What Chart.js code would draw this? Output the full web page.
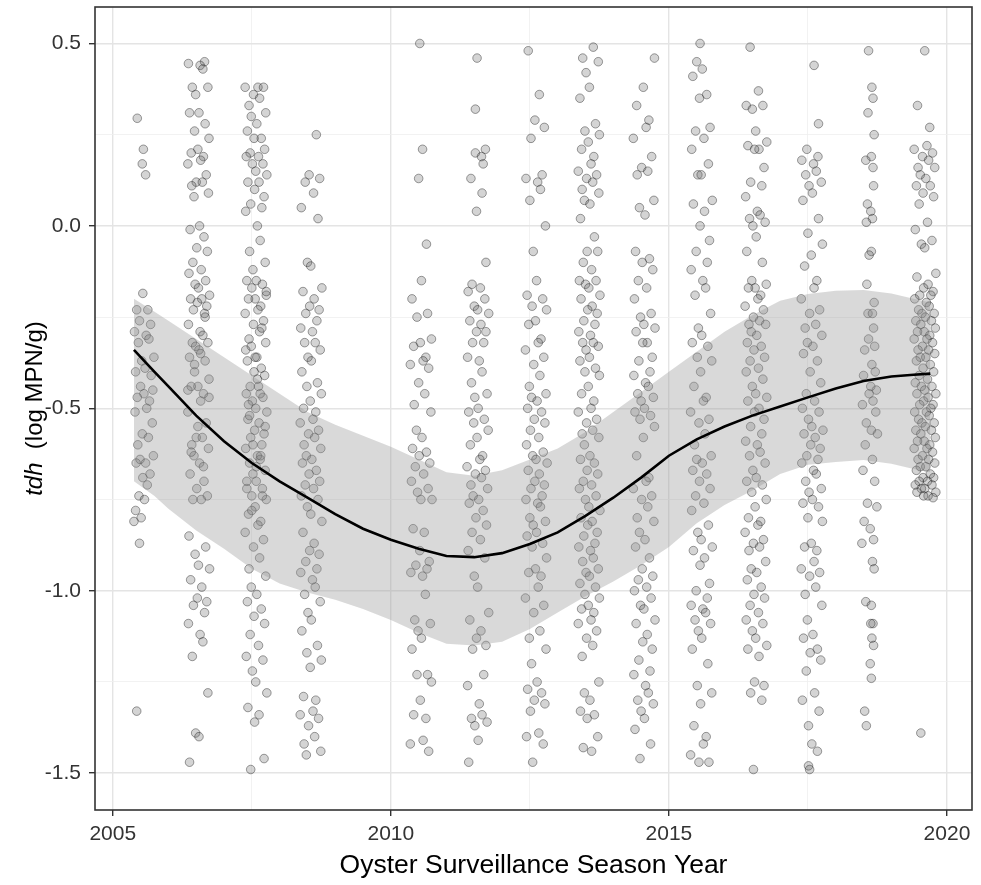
<!DOCTYPE html>
<html lang="en">
<head>
<meta charset="UTF-8" />
<title>tdh by season year</title>
<script src="https://cdn.jsdelivr.net/npm/chart.js"></script>
<style>
  html, body { margin: 0; padding: 0; background: #fff; }
  .wrap { width: 981px; height: 885px; position: relative; }
</style>
</head>
<body>
<div class="wrap"><canvas id="chart"></canvas></div>
<script>
// tick positions (major + minor grid) and labels
const xGrid = [2005, 2007.5, 2010, 2012.5, 2015, 2017.5, 2020];
const xLabels = [2005, 2010, 2015, 2020];
const yGrid = [-1.5, -1.25, -1, -0.75, -0.5, -0.25, 0, 0.25, 0.5];
const yLabels = [-1.5, -1, -0.5, 0, 0.5];

// smooth fit with its confidence band
const fitYears = [2005.38, 2005.75, 2006, 2006.5, 2007, 2007.5, 2008, 2008.5, 2009, 2009.5, 2010, 2010.5, 2011, 2011.5, 2012, 2012.5, 2013, 2013.5, 2014, 2014.5, 2015, 2015.5, 2016, 2016.5, 2017, 2017.5, 2018, 2018.5, 2019, 2019.4, 2019.7];
const fitLine = [-0.34, -0.40, -0.44, -0.52, -0.59, -0.65, -0.70, -0.745, -0.79, -0.83, -0.86, -0.885, -0.905, -0.908, -0.897, -0.872, -0.84, -0.795, -0.745, -0.69, -0.63, -0.585, -0.55, -0.52, -0.495, -0.47, -0.446, -0.425, -0.413, -0.408, -0.405];
const bandUpper = [-0.20, -0.235, -0.26, -0.31, -0.36, -0.41, -0.46, -0.51, -0.545, -0.575, -0.605, -0.64, -0.675, -0.685, -0.67, -0.64, -0.61, -0.565, -0.51, -0.455, -0.40, -0.345, -0.29, -0.245, -0.205, -0.187, -0.178, -0.176, -0.185, -0.20, -0.21];
const bandLower = [-0.70, -0.74, -0.775, -0.835, -0.885, -0.94, -0.98, -1.005, -1.025, -1.05, -1.08, -1.115, -1.145, -1.15, -1.14, -1.105, -1.06, -1.015, -0.975, -0.93, -0.88, -0.815, -0.765, -0.725, -0.68, -0.655, -0.647, -0.642, -0.652, -0.666, -0.675];

// samples per season: [offset from season centre (years), tdh]
const s2005 = [[-.13,.295],[-.02,.21],[-.04,.17],[.02,.14],[-.03,-.185],[-.14,-.23],[.06,-.23],[-.09,-.26],[.11,-.27],[-.18,-.29],[.03,-.30],[.08,-.31],[-.11,-.32],[.17,-.36],[-.05,-.37],[.01,-.39],[-.16,-.40],[.12,-.41],[-.07,-.44],[.15,-.45],[-.01,-.46],[-.13,-.47],[.09,-.48],[.04,-.50],[-.17,-.51],[.14,-.54],[-.04,-.57],[.07,-.58],[-.12,-.60],[.16,-.63],[-.08,-.64],[.02,-.65],[-.15,-.65],[.10,-.68],[-.03,-.69],[.05,-.71],[-.10,-.74],[.00,-.75],[-.16,-.78],[-.06,-.80],[-.19,-.81],[-.09,-.87],[-.14,-1.33]];
const s2006 = [[.11,.45],[-.18,.445],[.03,.44],[.08,.43],[-.11,.38],[.17,.38],[-.05,.36],[.01,.31],[-.16,.31],[.12,.28],[-.07,.26],[.19,.24],[-.01,.21],[-.13,.20],[.09,.19],[.04,.18],[-.19,.17],[.14,.14],[-.04,.12],[.07,.12],[-.12,.11],[.18,.09],[-.08,.08],[.02,0],[-.15,-.01],[.10,-.03],[-.03,-.06],[.16,-.07],[-.10,-.10],[.05,-.12],[-.17,-.13],[.13,-.15],[-.06,-.16],[.00,-.17],[.20,-.19],[-.14,-.20],[.06,-.20],[-.02,-.21],[.15,-.22],[-.09,-.23],[.11,-.24],[-.18,-.27],[.03,-.29],[.08,-.30],[-.11,-.32],[.17,-.32],[-.05,-.33],[.01,-.34],[-.16,-.36],[.12,-.37],[-.07,-.40],[.19,-.42],[-.01,-.44],[-.13,-.44],[.09,-.46],[.04,-.48],[-.19,-.51],[.14,-.54],[-.04,-.58],[.07,-.58],[-.12,-.60],[.18,-.61],[-.08,-.63],[.02,-.65],[-.15,-.68],[.10,-.70],[-.03,-.72],[.16,-.74],[-.10,-.75],[.05,-.75],[-.17,-.85],[.13,-.88],[-.06,-.90],[.00,-.93],[.20,-.94],[-.14,-.97],[.06,-.99],[-.02,-1.02],[.15,-1.03],[-.09,-1.04],[.11,-1.06],[-.18,-1.09],[.03,-1.12],[.08,-1.14],[-.11,-1.18],[.17,-1.28],[-.05,-1.39],[.01,-1.40],[-.16,-1.47],[.12,-.25],[-.07,-.38],[.19,-.47],[-.01,-.55],[-.13,-.62],[.09,-.66],[.04,-.35],[-.19,-.45]];
const s2007 = [[.04,.38],[-.19,.38],[.14,.38],[-.04,.36],[.07,.35],[-.12,.33],[.18,.31],[-.08,.30],[.02,.28],[-.15,.26],[.10,.24],[-.03,.24],[.16,.21],[-.10,.20],[.05,.19],[-.17,.19],[.13,.17],[-.06,.17],[.00,.15],[.20,.14],[-.14,.12],[.06,.12],[-.02,.10],[.15,.08],[-.09,.06],[.11,.05],[-.18,.04],[.03,0],[.08,-.04],[-.11,-.07],[.17,-.10],[-.05,-.12],[.01,-.15],[-.16,-.15],[.12,-.16],[-.07,-.17],[.19,-.19],[-.01,-.20],[-.13,-.20],[.09,-.22],[.04,-.23],[-.19,-.24],[.14,-.26],[-.04,-.27],[.07,-.29],[-.12,-.31],[.18,-.32],[-.08,-.33],[.02,-.36],[-.15,-.37],[.10,-.39],[-.03,-.40],[.16,-.41],[-.10,-.44],[.05,-.44],[-.17,-.46],[.13,-.47],[-.06,-.48],[.00,-.50],[.20,-.51],[-.14,-.53],[.06,-.54],[-.02,-.56],[.15,-.57],[-.09,-.58],[.11,-.60],[-.18,-.61],[.03,-.63],[.08,-.64],[-.11,-.65],[.17,-.67],[-.05,-.68],[.01,-.70],[-.16,-.72],[.12,-.72],[-.07,-.74],[.19,-.75],[-.01,-.77],[-.13,-.79],[.09,-.81],[.04,-.82],[-.19,-.84],[.14,-.86],[-.04,-.88],[.07,-.91],[-.12,-.94],[.18,-.96],[-.08,-.99],[.02,-1.01],[-.15,-1.03],[.10,-1.05],[-.03,-1.07],[.16,-1.09],[-.10,-1.12],[.05,-1.15],[-.17,-1.18],[.13,-1.19],[-.06,-1.22],[.00,-1.25],[.20,-1.28],[-.14,-1.32],[.06,-1.34],[-.02,-1.36],[.15,-1.46],[-.09,-1.49],[.11,-.28],[-.18,-.34],[.03,-.42],[.08,-.46],[-.11,-.52],[.17,-.55],[-.05,-.60],[.01,-.66],[-.16,-.70],[.12,-.74],[-.07,-.78],[.19,-.18],[-.01,-.36],[-.13,-.49],[.09,-.63]];
const s2008 = [[.10,.25],[-.03,.14],[.16,.13],[-.10,.12],[.05,.09],[-.17,.05],[.13,.02],[-.06,-.10],[.00,-.11],[.20,-.17],[-.14,-.18],[.06,-.20],[-.02,-.22],[.15,-.23],[-.09,-.24],[.11,-.26],[-.18,-.28],[.03,-.29],[.08,-.32],[-.11,-.32],[.17,-.34],[-.05,-.36],[.01,-.37],[-.16,-.40],[.12,-.43],[-.07,-.44],[.19,-.46],[-.01,-.48],[-.13,-.50],[.09,-.51],[.04,-.53],[-.19,-.54],[.14,-.56],[-.04,-.57],[.07,-.58],[-.12,-.60],[.18,-.61],[-.08,-.63],[.02,-.64],[-.15,-.65],[.10,-.67],[-.03,-.68],[.16,-.70],[-.10,-.71],[.05,-.72],[-.17,-.74],[.13,-.75],[-.06,-.77],[.00,-.79],[.20,-.81],[-.14,-.84],[.06,-.87],[-.02,-.89],[.15,-.90],[-.09,-.92],[.11,-.94],[-.18,-.95],[.03,-.97],[.08,-.99],[-.11,-1.01],[.17,-1.03],[-.05,-1.06],[.01,-1.08],[-.16,-1.11],[.12,-1.15],[-.07,-1.17],[.19,-1.19],[-.01,-1.21],[-.13,-1.29],[.09,-1.30],[.04,-1.33],[-.19,-1.34],[.14,-1.35],[-.04,-1.37],[.07,-1.40],[-.12,-1.42],[.18,-1.44],[-.08,-1.45]];
const s2010 = [[-.02,.50],[.03,.21],[-.04,.13],[.10,-.05],[.01,-.15],[-.16,-.20],[.12,-.24],[-.07,-.25],[.19,-.31],[-.01,-.32],[-.13,-.33],[.09,-.36],[.04,-.37],[-.19,-.38],[.14,-.39],[-.04,-.43],[.07,-.46],[-.12,-.49],[.18,-.51],[-.08,-.56],[.02,-.58],[-.15,-.61],[.10,-.62],[-.03,-.63],[.16,-.65],[-.10,-.66],[.05,-.68],[-.17,-.70],[.13,-.72],[-.06,-.73],[.00,-.75],[.20,-.75],[-.14,-.83],[.06,-.84],[-.02,-.89],[.15,-.92],[-.09,-.93],[.11,-.94],[-.18,-.95],[.03,-.96],[.08,-1.01],[-.11,-1.08],[.17,-1.09],[-.05,-1.11],[.01,-1.13],[-.16,-1.16],[.12,-1.23],[-.07,-1.23],[.19,-1.25],[-.01,-1.30],[-.13,-1.34],[.09,-1.35],[.04,-1.41],[-.19,-1.42],[.14,-1.44]];
const s2011 = [[-.01,.46],[-.04,.32],[.14,.21],[-.04,.20],[.07,.19],[.10,.17],[-.12,.13],[.08,.09],[-.02,.04],[.15,-.10],[-.10,-.16],[.05,-.17],[-.17,-.18],[.13,-.20],[-.06,-.22],[.00,-.23],[.20,-.24],[-.14,-.26],[.06,-.27],[-.02,-.29],[.15,-.29],[-.09,-.32],[.11,-.32],[-.18,-.36],[.03,-.37],[.08,-.40],[-.11,-.43],[.17,-.46],[-.05,-.47],[.01,-.50],[-.16,-.51],[.12,-.53],[-.07,-.54],[.19,-.56],[-.01,-.58],[-.13,-.60],[.09,-.63],[.04,-.64],[-.19,-.66],[.14,-.67],[-.04,-.68],[.07,-.69],[-.12,-.71],[.18,-.72],[-.08,-.74],[.02,-.75],[-.15,-.76],[.10,-.78],[-.03,-.80],[.16,-.82],[-.10,-.84],[.05,-.86],[-.17,-.89],[.13,-.91],[-.06,-.96],[.00,-.99],[.20,-1.06],[-.14,-1.08],[.06,-1.11],[-.02,-1.13],[.15,-1.15],[-.09,-1.16],[.11,-1.23],[-.18,-1.26],[.03,-1.31],[.08,-1.34],[-.11,-1.35],[.17,-1.36],[-.05,-1.37],[.01,-1.41],[-.16,-1.47]];
const s2012 = [[-.14,.48],[.06,.36],[-.02,.29],[.15,.27],[-.09,.24],[.11,.14],[-.18,.13],[.03,.12],[.08,.10],[-.11,.07],[.17,0],[-.05,-.07],[.01,-.15],[-.16,-.19],[.12,-.20],[-.07,-.22],[.19,-.23],[-.01,-.26],[-.13,-.27],[.09,-.31],[.04,-.32],[-.19,-.34],[.14,-.36],[-.04,-.38],[.07,-.41],[-.12,-.44],[.18,-.46],[-.08,-.47],[.02,-.48],[-.15,-.50],[.10,-.51],[-.03,-.53],[.16,-.54],[-.10,-.56],[.05,-.58],[-.17,-.60],[.13,-.62],[-.06,-.63],[.00,-.64],[.20,-.65],[-.14,-.67],[.06,-.68],[-.02,-.70],[.15,-.71],[-.09,-.72],[.11,-.74],[-.18,-.75],[.03,-.76],[.08,-.77],[-.11,-.80],[.17,-.81],[-.05,-.82],[.01,-.84],[-.16,-.85],[.12,-.87],[-.07,-.88],[.19,-.91],[-.01,-.94],[-.13,-.95],[.09,-.96],[.04,-.99],[-.19,-1.02],[.14,-1.04],[-.04,-1.06],[.07,-1.11],[-.12,-1.13],[.18,-1.16],[-.08,-1.20],[.02,-1.25],[-.15,-1.27],[.10,-1.28],[-.03,-1.30],[.16,-1.31],[-.10,-1.33],[.05,-1.39],[-.17,-1.40],[.13,-1.42],[-.06,-1.47]];
const s2013 = [[.08,.49],[-.11,.46],[.17,.45],[-.05,.42],[.01,.38],[-.16,.35],[.12,.28],[-.07,.26],[.19,.25],[-.01,.23],[-.13,.21],[.09,.19],[.04,.17],[-.19,.15],[.14,.14],[-.04,.13],[.07,.12],[-.12,.10],[.18,.09],[-.08,.07],[.02,.06],[-.15,.02],[.10,-.03],[-.03,-.07],[.16,-.07],[-.10,-.10],[.05,-.12],[-.17,-.15],[.13,-.15],[-.06,-.16],[.00,-.17],[.20,-.19],[-.14,-.20],[.06,-.22],[-.02,-.23],[.15,-.24],[-.09,-.26],[.11,-.27],[-.18,-.29],[.03,-.30],[.08,-.32],[-.11,-.32],[.17,-.33],[-.05,-.34],[.01,-.36],[-.16,-.37],[.12,-.39],[-.07,-.40],[.19,-.41],[-.01,-.44],[-.13,-.46],[.09,-.48],[.04,-.50],[-.19,-.51],[.14,-.53],[-.04,-.54],[.07,-.56],[-.12,-.57],[.18,-.58],[-.08,-.60],[.02,-.63],[-.15,-.64],[.10,-.65],[-.03,-.67],[.16,-.68],[-.10,-.70],[.05,-.71],[-.17,-.72],[.13,-.74],[-.06,-.75],[.00,-.77],[.20,-.78],[-.14,-.80],[.06,-.81],[-.02,-.82],[.15,-.84],[-.09,-.85],[.11,-.87],[-.18,-.88],[.03,-.89],[.08,-.91],[-.11,-.92],[.17,-.94],[-.05,-.95],[.01,-.96],[-.16,-.98],[.12,-.99],[-.07,-1.01],[.19,-1.02],[-.01,-1.04],[-.13,-1.05],[.09,-1.06],[.04,-1.08],[-.19,-1.09],[.14,-1.11],[-.04,-1.13],[.07,-1.15],[-.12,-1.18],[.18,-1.25],[-.08,-1.28],[.02,-1.30],[-.15,-1.33],[.10,-1.34],[-.03,-1.35],[.16,-1.40],[-.10,-1.43],[.05,-1.44]];
const s2014 = [[.19,.46],[-.01,.38],[-.13,.33],[.09,.29],[.04,.27],[-.19,.24],[.14,.19],[-.04,.16],[.07,.15],[-.12,.14],[.18,.07],[-.08,.05],[.02,.03],[-.15,-.07],[.10,-.09],[-.03,-.10],[.16,-.12],[-.10,-.15],[.05,-.17],[-.17,-.20],[.13,-.24],[-.06,-.25],[.00,-.27],[.20,-.28],[-.14,-.29],[.06,-.32],[-.02,-.32],[.15,-.36],[-.09,-.37],[.11,-.40],[-.18,-.41],[.03,-.43],[.08,-.44],[-.11,-.46],[.17,-.47],[-.05,-.48],[.01,-.50],[-.16,-.51],[.12,-.52],[-.07,-.53],[.19,-.55],[-.01,-.58],[-.13,-.63],[.09,-.69],[.04,-.70],[-.19,-.72],[.14,-.74],[-.04,-.75],[.07,-.77],[-.12,-.80],[.18,-.81],[-.08,-.84],[.02,-.86],[-.15,-.88],[.10,-.91],[-.03,-.94],[.16,-.96],[-.10,-.97],[.05,-.99],[-.17,-1.00],[.13,-1.02],[-.06,-1.04],[.00,-1.05],[.20,-1.08],[-.14,-1.09],[.06,-1.12],[-.02,-1.14],[.15,-1.16],[-.09,-1.19],[.11,-1.22],[-.18,-1.23],[.03,-1.26],[.08,-1.28],[-.11,-1.30],[.17,-1.31],[-.05,-1.33],[.01,-1.35],[-.16,-1.38],[.12,-1.42],[-.07,-1.46]];
const s2015 = [[-.02,.50],[-.08,.45],[.02,.43],[-.15,.41],[.10,.36],[-.03,.35],[.16,.27],[-.10,.26],[.05,.24],[-.17,.21],[.13,.17],[-.06,.14],[.00,.14],[.20,.07],[-.14,.06],[.06,.04],[-.02,0],[.15,-.04],[-.09,-.07],[.11,-.10],[-.18,-.12],[.03,-.15],[.08,-.17],[-.11,-.19],[.17,-.24],[-.05,-.28],[.01,-.30],[-.16,-.32],[.12,-.33],[-.07,-.36],[.19,-.37],[-.01,-.40],[-.13,-.44],[.09,-.47],[.04,-.48],[-.19,-.51],[.14,-.53],[-.04,-.54],[.07,-.57],[-.12,-.60],[.18,-.63],[-.08,-.64],[.02,-.65],[-.15,-.67],[.10,-.68],[-.03,-.70],[.16,-.72],[-.10,-.74],[.05,-.76],[-.17,-.78],[.13,-.82],[-.06,-.84],[.00,-.86],[.20,-.88],[-.14,-.89],[.06,-.91],[-.02,-.93],[.15,-.98],[-.09,-1.00],[.11,-1.02],[-.18,-1.04],[.03,-1.05],[.08,-1.06],[-.11,-1.08],[.17,-1.09],[-.05,-1.11],[.01,-1.13],[-.16,-1.16],[.12,-1.20],[-.07,-1.26],[.19,-1.28],[-.01,-1.31],[-.13,-1.37],[.09,-1.40],[.04,-1.42],[-.19,-1.45],[.14,-1.47],[-.04,-1.47]];
const s2016 = [[-.10,.49],[.05,.37],[-.17,.33],[.13,.33],[-.06,.32],[.00,.26],[.20,.23],[-.14,.22],[.06,.21],[-.02,.21],[.15,.16],[-.09,.12],[.11,.11],[-.18,.08],[.03,.04],[.08,.03],[-.11,.02],[.17,.01],[-.05,0],[.01,-.03],[-.16,-.07],[.12,-.10],[-.07,-.15],[.19,-.16],[-.01,-.17],[-.13,-.17],[.09,-.19],[.04,-.20],[-.19,-.22],[.14,-.23],[-.04,-.25],[.07,-.26],[-.12,-.27],[.18,-.27],[-.08,-.29],[.02,-.30],[-.15,-.32],[.10,-.33],[-.03,-.34],[.16,-.36],[-.10,-.37],[.05,-.39],[-.17,-.40],[.13,-.42],[-.06,-.44],[.00,-.46],[.20,-.47],[-.14,-.48],[.06,-.50],[-.02,-.51],[.15,-.53],[-.09,-.55],[.11,-.57],[-.18,-.59],[.03,-.60],[.08,-.62],[-.11,-.63],[.17,-.65],[-.05,-.67],[.01,-.69],[-.16,-.70],[.12,-.71],[-.07,-.73],[.19,-.75],[-.01,-.77],[-.13,-.80],[.09,-.81],[.04,-.82],[-.19,-.84],[.14,-.86],[-.04,-.87],[.07,-.88],[-.12,-.89],[.18,-.92],[-.08,-.94],[.02,-.95],[-.15,-.97],[.10,-.99],[-.03,-1.01],[.16,-1.02],[-.10,-1.04],[.05,-1.06],[-.17,-1.08],[.13,-1.09],[-.06,-1.11],[.00,-1.13],[.20,-1.15],[-.14,-1.16],[.06,-1.18],[-.02,-1.25],[.15,-1.26],[-.09,-1.28],[.11,-1.30],[-.04,-1.49]];
const s2017 = [[.04,.44],[.12,.28],[-.09,.21],[.11,.19],[-.18,.18],[.03,.17],[.08,.15],[-.11,.14],[.17,.12],[-.05,.11],[.01,.09],[-.16,.07],[.12,.02],[-.07,-.02],[.19,-.05],[-.01,-.08],[-.13,-.11],[.09,-.15],[.04,-.17],[-.19,-.20],[.14,-.23],[-.04,-.24],[.07,-.27],[-.12,-.28],[.18,-.30],[-.08,-.32],[.02,-.33],[-.15,-.35],[.10,-.37],[-.03,-.40],[.16,-.43],[-.10,-.46],[.05,-.48],[-.17,-.50],[.13,-.51],[-.06,-.53],[.00,-.55],[.20,-.56],[-.14,-.57],[.06,-.58],[-.02,-.60],[.15,-.61],[-.09,-.63],[.11,-.64],[-.18,-.65],[.03,-.67],[.08,-.68],[-.11,-.70],[.17,-.72],[-.05,-.73],[.01,-.75],[-.16,-.76],[.12,-.77],[-.07,-.80],[.19,-.81],[-.01,-.87],[-.13,-.88],[.09,-.89],[.04,-.92],[-.19,-.94],[.14,-.95],[-.04,-.96],[.07,-.99],[-.12,-1.01],[.18,-1.04],[-.08,-1.08],[.02,-1.12],[-.15,-1.13],[.10,-1.16],[-.03,-1.17],[.16,-1.19],[-.10,-1.22],[.05,-1.28],[-.17,-1.30],[.13,-1.33],[-.06,-1.37],[.00,-1.42],[.10,-1.44],[-.06,-1.48],[-.04,-1.49]];
const s2018 = [[-.02,.48],[.04,.38],[.06,.35],[-.03,.31],[.08,.25],[.03,.19],[-.07,.18],[.06,.16],[.07,.11],[-.04,.06],[.02,.04],[.05,.02],[-.06,.01],[.03,-.07],[-.01,-.08],[-.05,-.16],[.08,-.21],[-.03,-.24],[.05,-.24],[.07,-.28],[-.02,-.31],[.09,-.33],[-.09,-.34],[.04,-.38],[.10,-.40],[-.11,-.41],[.02,-.44],[.12,-.45],[-.01,-.46],[.06,-.48],[-.13,-.49],[.11,-.51],[-.06,-.54],[.03,-.56],[.14,-.57],[-.08,-.60],[.05,-.64],[-.12,-.67],[.09,-.70],[-.04,-.76],[.13,-.77],[-.10,-.81],[.01,-.83],[.07,-.86],[-.14,-.87],[.05,-.92],[.08,-.94],[-.07,-1.03],[.03,-1.04],[.06,-1.09],[.02,-1.09],[.04,-1.13],[.07,-1.15],[.01,-1.20],[.03,-1.24],[-.09,-1.33],[-.06,-1.37]];
const s2019 = [[.00,.48],[-.13,.33],[.09,.27],[.04,.22],[-.19,.21],[.14,.20],[-.04,.19],[.07,.18],[-.12,.16],[.18,.16],[-.08,.14],[.02,.13],[-.15,.11],[.10,.11],[-.03,.09],[.16,.08],[-.10,.06],[.05,.01],[-.17,-.01],[.13,-.04],[-.06,-.05],[.00,-.06],[.20,-.13],[-.14,-.14],[.06,-.16],[-.02,-.17],[.15,-.18],[-.09,-.19],[.11,-.19],[-.18,-.20],[.03,-.21],[.08,-.22],[-.11,-.23],[.17,-.24],[-.05,-.24],[.01,-.25],[-.16,-.26],[.12,-.26],[-.07,-.27],[.19,-.28],[-.01,-.29],[-.13,-.29],[.09,-.30],[.04,-.31],[-.19,-.31],[.14,-.32],[-.04,-.33],[.07,-.34],[-.12,-.34],[.18,-.35],[-.08,-.36],[.02,-.36],[-.15,-.37],[.10,-.38],[-.03,-.39],[.16,-.40],[-.10,-.41],[.05,-.42],[-.17,-.43],[.13,-.44],[-.06,-.44],[.00,-.45],[.20,-.46],[-.14,-.46],[.06,-.47],[-.02,-.48],[.15,-.49],[-.09,-.49],[.11,-.50],[-.18,-.51],[.03,-.51],[.08,-.52],[-.11,-.53],[.17,-.54],[-.05,-.54],[.01,-.55],[-.16,-.56],[.12,-.56],[-.07,-.57],[.19,-.58],[-.01,-.59],[-.13,-.59],[.09,-.60],[.04,-.61],[-.19,-.61],[.14,-.62],[-.04,-.63],[.07,-.64],[-.12,-.64],[.18,-.65],[-.08,-.66],[.02,-.66],[-.15,-.67],[.10,-.68],[-.03,-.69],[.16,-.69],[-.10,-.70],[.05,-.70],[-.17,-.71],[.13,-.71],[-.06,-.72],[.00,-.72],[.20,-.73],[-.14,-.73],[.06,-.74],[-.02,-.74],[.15,-.745],[-.07,-1.39]];

const seasonCentres = [2005.57, 2006.54, 2007.57, 2008.56, 2010.54, 2011.56, 2012.61, 2013.56, 2014.55, 2015.58, 2016.56, 2017.57, 2018.61, 2019.60];
const seasonSamples = [s2005, s2006, s2007, s2008, s2010, s2011, s2012, s2013, s2014, s2015, s2016, s2017, s2018, s2019];

const points = [];
seasonSamples.forEach((list, i) => {
  list.forEach(([dx, y]) => points.push({ x: seasonCentres[i] + dx, y: y }));
});

const family = "'Liberation Sans', Arial, sans-serif";

const isOn = (v, list) => list.some(t => Math.abs(t - v) < 1e-6);

// y title with italic gene name, plus the panel border
const extras = {
  id: "extras",
  afterDatasetsDraw(chart) {
    const { ctx, chartArea: a } = chart;
    ctx.save();
    ctx.strokeStyle = "#333";
    ctx.lineWidth = 1.6;
    ctx.strokeRect(a.left, a.top, a.right - a.left, a.bottom - a.top);
    ctx.restore();
  },
  afterDraw(chart) {
    const { ctx, chartArea: a } = chart;
    const it = "italic 24px " + family;
    const rg = "24px " + family;
    ctx.save();
    ctx.translate(35, (a.top + a.bottom) / 2);
    ctx.rotate(-Math.PI / 2);
    ctx.fillStyle = "#000";
    ctx.textBaseline = "middle";
    ctx.textAlign = "left";
    ctx.font = it;
    const w1 = ctx.measureText("tdh").width;
    ctx.font = rg;
    const w2 = ctx.measureText("  (log MPN/g)").width;
    const x0 = -(w1 + w2) / 2;
    ctx.font = it;
    ctx.fillText("tdh", x0, 0);
    ctx.font = rg;
    ctx.fillText("  (log MPN/g)", x0 + w1, 0);
    ctx.restore();
  }
};

// keep the panel where the reference has it: no label overflow padding
const noPad = s => {
  s.paddingTop = 0;
  s.paddingBottom = 0;
  s.paddingLeft = 0;
  s.paddingRight = 0;
};

const ctx = document.getElementById("chart");

new Chart(ctx, {
  type: "scatter",
  data: {
    datasets: [
      {
        type: "line",
        label: "fit",
        data: fitYears.map((x, i) => ({ x: x, y: fitLine[i] })),
        borderColor: "#000",
        borderWidth: 2.6,
        pointRadius: 0,
        fill: false,
        order: 0
      },
      {
        type: "line",
        label: "upper",
        data: fitYears.map((x, i) => ({ x: x, y: bandUpper[i] })),
        borderColor: "rgba(0,0,0,0)",
        borderWidth: 0,
        pointRadius: 0,
        fill: false,
        order: 1
      },
      {
        type: "line",
        label: "lower",
        data: fitYears.map((x, i) => ({ x: x, y: bandLower[i] })),
        borderColor: "rgba(0,0,0,0)",
        borderWidth: 0,
        pointRadius: 0,
        fill: "-1",
        backgroundColor: "rgba(150,150,150,0.36)",
        order: 1
      },
      {
        label: "samples",
        data: points,
        pointRadius: 4.3,
        borderWidth: 1,
        backgroundColor: "rgba(100,100,100,0.28)",
        borderColor: "rgba(20,20,20,0.4)",
        order: 2
      }
    ]
  },
  options: {
    responsive: true,
    maintainAspectRatio: false,
    animation: false,
    layout: { padding: { top: 7, right: 9, left: 0, bottom: 0 } },
    plugins: {
      legend: { display: false },
      tooltip: { enabled: false }
    },
    scales: {
      x: {
        type: "linear",
        min: 2004.68,
        max: 2020.45,
        afterBuildTicks: s => { s.ticks = xGrid.map(v => ({ value: v })); },
        afterFit: s => { s.height = 75; noPad(s); },
        border: { display: false },
        grid: {
          color: c => isOn(c.tick.value, xLabels) ? "#e4e4e4" : "#efefef",
          lineWidth: c => isOn(c.tick.value, xLabels) ? 1.4 : 0.8,
          drawTicks: true,
          tickLength: 6,
          tickWidth: 1.4,
          tickColor: c => isOn(c.tick.value, xLabels) ? "#333" : "rgba(0,0,0,0)"
        },
        ticks: {
          autoSkip: false,
          maxRotation: 0,
          padding: 6,
          color: "#333",
          font: { family: family, size: 21 },
          callback: v => isOn(v, xLabels) ? String(Math.round(v)) : ""
        },
        title: {
          display: true,
          text: "Oyster Surveillance Season Year",
          color: "#000",
          font: { family: family, size: 26.5 },
          padding: { top: 0, bottom: 3 }
        }
      },
      y: {
        type: "linear",
        min: -1.601,
        max: 0.6,
        afterBuildTicks: s => { s.ticks = yGrid.map(v => ({ value: v })); },
        afterFit: s => { s.width = 95; noPad(s); },
        border: { display: false },
        grid: {
          color: c => isOn(c.tick.value, yLabels) ? "#e4e4e4" : "#efefef",
          lineWidth: c => isOn(c.tick.value, yLabels) ? 1.4 : 0.8,
          drawTicks: true,
          tickLength: 6,
          tickWidth: 1.4,
          tickColor: c => isOn(c.tick.value, yLabels) ? "#333" : "rgba(0,0,0,0)"
        },
        ticks: {
          autoSkip: false,
          padding: 8,
          color: "#333",
          font: { family: family, size: 21 },
          callback: v => isOn(v, yLabels) ? v.toFixed(1) : ""
        }
      }
    }
  },
  plugins: [extras]
});
</script>
</body>
</html>
